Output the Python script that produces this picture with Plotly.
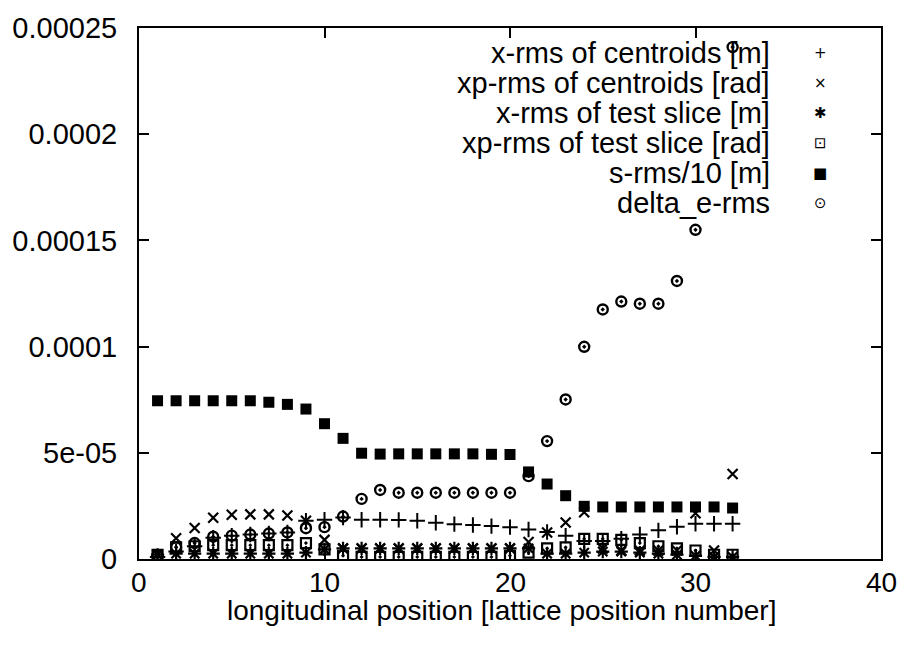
import plotly.graph_objects as go

# ---------------- data ----------------
positions = list(range(1, 33))

x_rms_centroids = [0.10, 0.35, 0.60, 1.00, 1.10, 1.15, 1.20, 1.25, 1.80, 1.85,
                   1.95, 1.85, 1.85, 1.84, 1.80, 1.71, 1.64, 1.60, 1.55, 1.50,
                   1.39, 1.27, 1.10, 0.85, 0.85, 0.95, 1.15, 1.35, 1.52, 1.66,
                   1.66, 1.66]
xp_rms_centroids = [0.20, 0.98, 1.46, 1.94, 2.08, 2.10, 2.10, 2.05, 1.80, 0.90,
                    0.50, 0.50, 0.50, 0.50, 0.50, 0.50, 0.50, 0.50, 0.50, 0.50,
                    0.80, 1.25, 1.72, 2.20, 0.50, 0.40, 0.40, 0.40, 0.40, 2.15,
                    0.40, 4.00]
x_rms_slice = [0.20, 0.25, 0.25, 0.25, 0.25, 0.25, 0.25, 0.25, 0.30, 0.45,
               0.50, 0.50, 0.50, 0.50, 0.50, 0.50, 0.50, 0.50, 0.50, 0.50,
               0.50, 0.25, 0.25, 0.30, 0.35, 0.35, 0.30, 0.25, 0.20, 0.15,
               0.10, 0.10]
xp_rms_slice = [0.20, 0.55, 0.60, 0.65, 0.65, 0.65, 0.65, 0.65, 0.75, 0.45,
                0.15, 0.10, 0.10, 0.10, 0.10, 0.10, 0.10, 0.10, 0.10, 0.15,
                0.30, 0.50, 0.55, 0.95, 0.95, 0.90, 0.75, 0.60, 0.50, 0.40,
                0.20, 0.20]
s_rms_10 = [7.45, 7.45, 7.45, 7.45, 7.45, 7.45, 7.38, 7.28, 7.06, 6.37,
            5.68, 4.98, 4.94, 4.95, 4.95, 4.95, 4.95, 4.95, 4.93, 4.92,
            4.10, 3.53, 2.98, 2.48, 2.45, 2.45, 2.45, 2.45, 2.45, 2.45,
            2.45, 2.40]
delta_e_rms = [0.15, 0.55, 0.75, 1.05, 1.10, 1.15, 1.20, 1.25, 1.45, 1.50,
               2.00, 2.83, 3.25, 3.12, 3.12, 3.12, 3.12, 3.12, 3.12, 3.12,
               3.90, 5.55, 7.51, 9.99, 11.75, 12.12, 12.02, 12.02, 13.09, 15.50,
               None, 24.10]
value_unit = 1e-5  # the lists above are in units of 1e-5

x_tick_vals = [0, 10, 20, 30, 40]
x_tick_text = ["0", "10", "20", "30", "40"]
y_tick_vals = [0, 5e-05, 0.0001, 0.00015, 0.0002, 0.00025]
y_tick_text = ["0", "5e-05", "0.0001", "0.00015", "0.0002", "0.00025"]

series_names = ["x-rms of centroids [m]", "xp-rms of centroids [rad]",
                "x-rms of test slice [m]", "xp-rms of test slice [rad]",
                "s-rms/10 [m]", "delta_e-rms"]
key_glyphs = ["+", "×", "✱", "⊡", "■", "⊙"]

# ---------------- styling ----------------
FONT = "Liberation Sans, Arial, Helvetica, sans-serif"
W, H = 899, 651
L, R, T, B = 136, 881, 27, 559

def scale(vals):
    return [None if v is None else v * value_unit for v in vals]

styles = [
    dict(symbol="cross-thin-open", size=11, line=dict(width=2, color="black")),
    dict(symbol="x-thin-open", size=10, line=dict(width=2.2, color="black")),
    dict(symbol="asterisk-open", size=11, line=dict(width=2.2, color="black")),
    dict(symbol="square-open-dot", size=10, line=dict(width=2.2, color="black")),
    dict(symbol="square", size=11, color="black", line=dict(width=0)),
    dict(symbol="circle-open-dot", size=10, line=dict(width=2.4, color="black")),
]
all_series = [x_rms_centroids, xp_rms_centroids, x_rms_slice,
              xp_rms_slice, s_rms_10, delta_e_rms]

fig = go.Figure()
for name, vals, st in zip(series_names, all_series, styles):
    marker = dict(st)
    marker.setdefault("color", "black")
    fig.add_trace(go.Scatter(x=positions, y=scale(vals), mode="markers",
                             name=name, marker=marker, showlegend=False))

def px_x(p):
    return (p - L) / (R - L)

def px_y(p):
    return (B - p) / (B - T)

annotations = []
key_rows = [52, 82, 112, 142, 172, 202]
for name, glyph, ry in zip(series_names, key_glyphs, key_rows):
    annotations.append(dict(x=px_x(772), y=px_y(ry), xref="paper", yref="paper",
                            text=name, showarrow=False, xanchor="right",
                            yanchor="middle",
                            font=dict(family=FONT, size=29, color="black")))
    annotations.append(dict(x=px_x(820), y=px_y(ry), xref="paper", yref="paper",
                            text=glyph, showarrow=False, xanchor="center",
                            yanchor="middle",
                            font=dict(family="DejaVu Sans", size=15, color="black")))

for tv, tt in zip(x_tick_vals, x_tick_text):
    annotations.append(dict(x=tv, y=px_y(583), xref="x", yref="paper", text=tt,
                            showarrow=False, xanchor="center", yanchor="middle",
                            font=dict(family=FONT, size=28, color="black")))

annotations.append(dict(x=px_x(500), y=px_y(611), xref="paper", yref="paper",
                        text="longitudinal position [lattice position number]",
                        showarrow=False, xanchor="center", yanchor="middle",
                        font=dict(family=FONT, size=28, color="black")))

fig.update_layout(
    width=W, height=H,
    margin=dict(l=L, r=W - R, t=T, b=H - B, pad=0),
    paper_bgcolor="white", plot_bgcolor="white",
    font=dict(family=FONT, size=28, color="black"),
    annotations=annotations,
    xaxis=dict(range=[0, 40], tickvals=x_tick_vals, showticklabels=False,
               ticks="inside", ticklen=10,
               tickwidth=2, tickcolor="black", mirror="ticks", showline=True,
               linecolor="black", linewidth=2, showgrid=False, zeroline=False),
    yaxis=dict(range=[0, 0.00025], tickvals=y_tick_vals, ticktext=y_tick_text,
               ticks="inside", ticklen=10, tickwidth=2, tickcolor="black",
               mirror="ticks", showline=True, linecolor="black", linewidth=2,
               showgrid=False, zeroline=False, ticklabelstandoff=14,
               tickfont=dict(family=FONT, size=29, color="black")),
)

fig.write_html("out.html")
